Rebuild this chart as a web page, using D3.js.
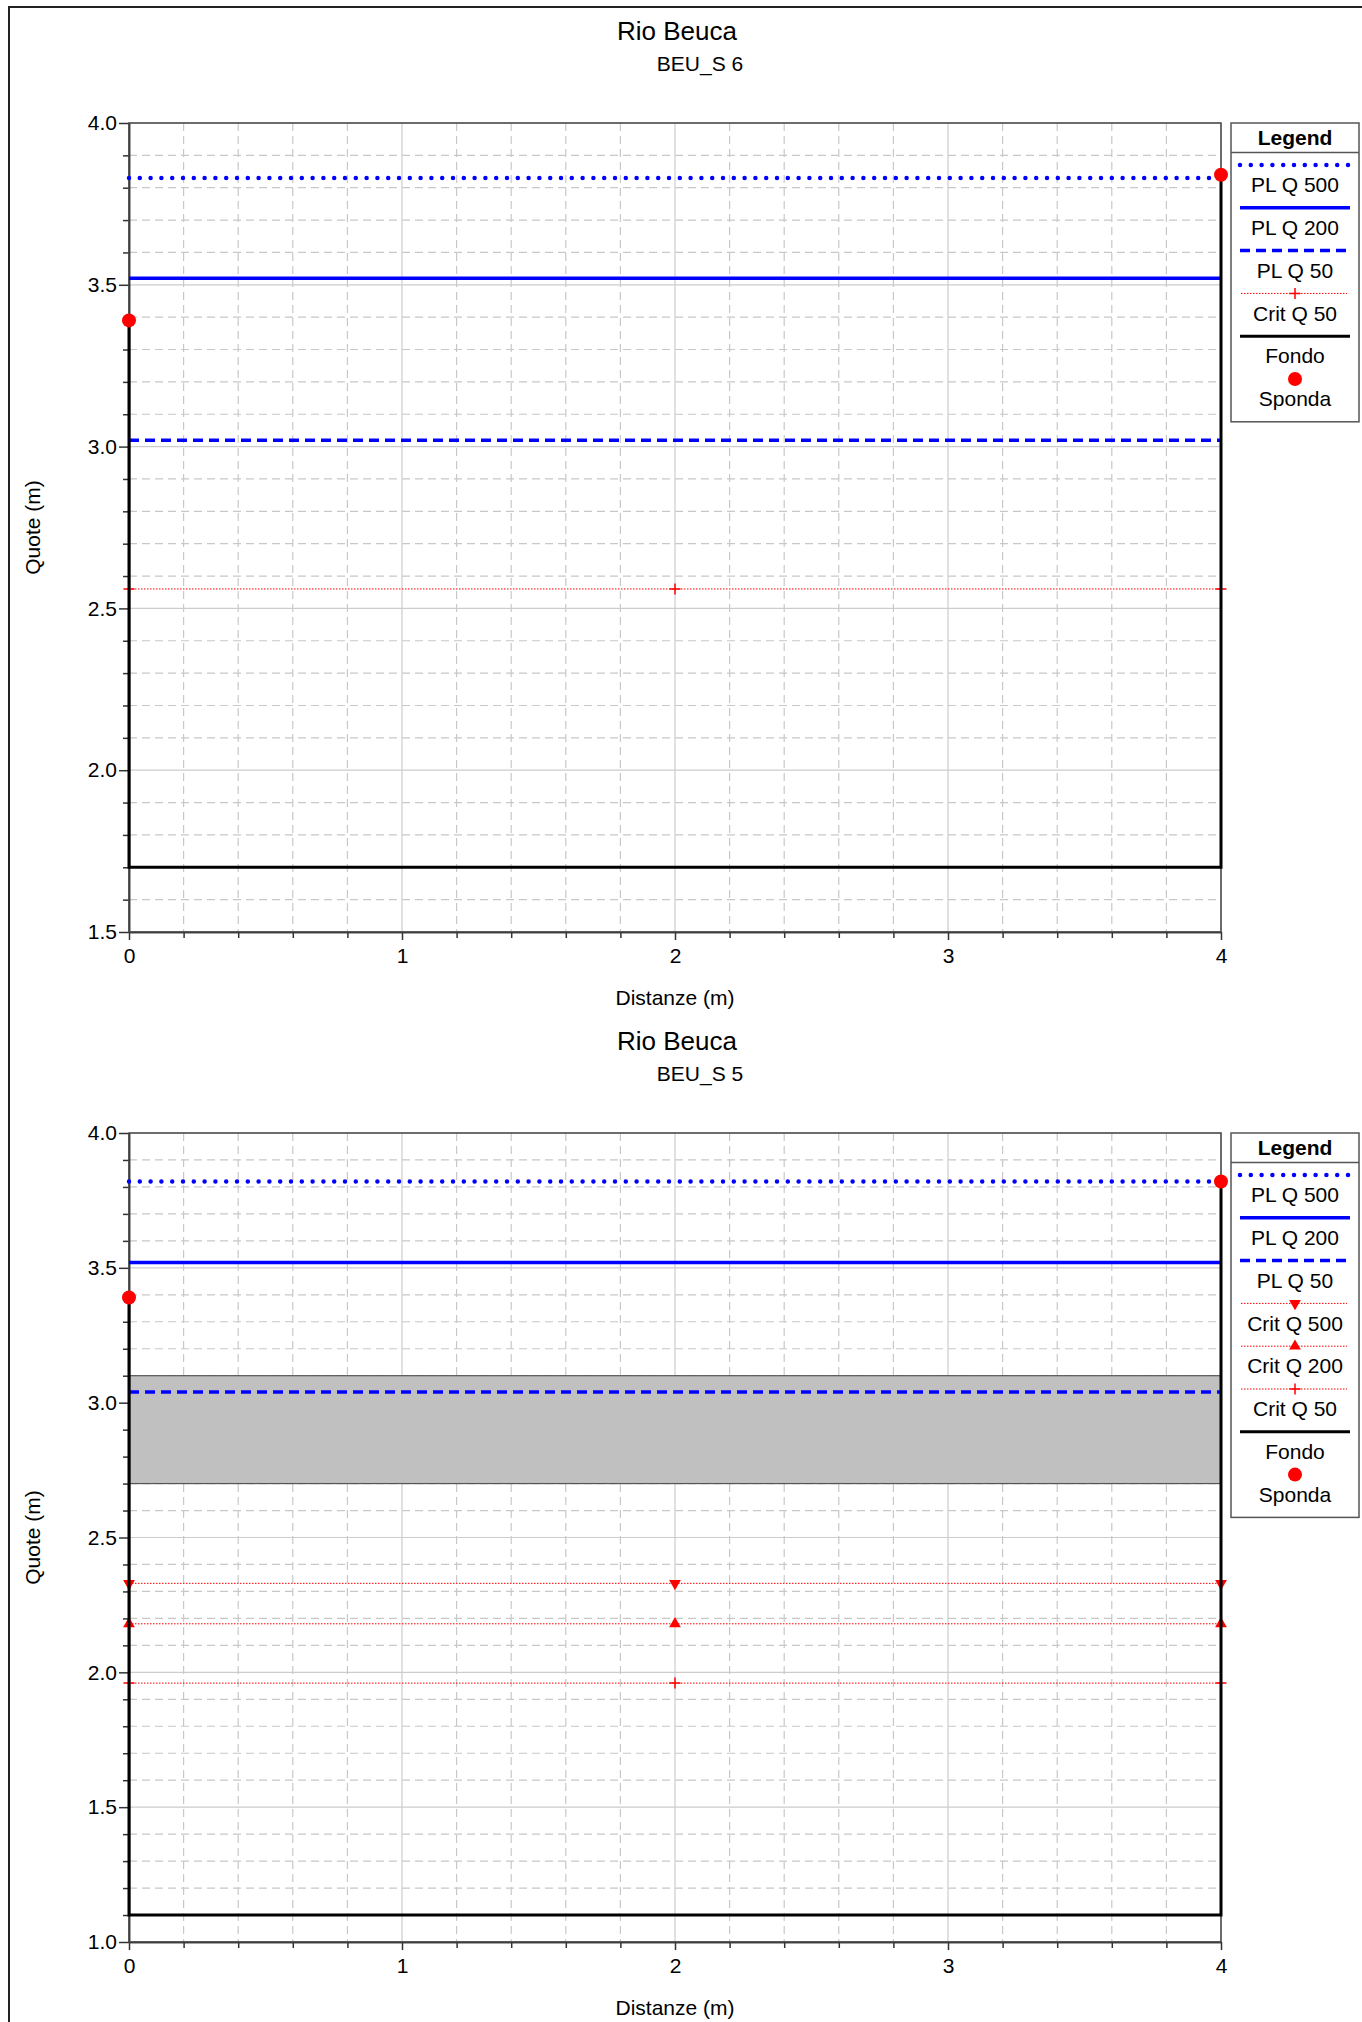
<!DOCTYPE html>
<html><head><meta charset="utf-8">
<script src="https://cdn.jsdelivr.net/npm/d3@7"></script>
<style>body{margin:0;background:#fff}svg{display:block}text{font-family:"Liberation Sans",Arial,sans-serif;fill:#000}</style>
</head><body><div id="chart"></div>
<script>
// ---- data ----
const riverName = "Rio Beuca";
const sectionNames = ["BEU_S 6", "BEU_S 5"];
const xTicks = [0, 1, 2, 3, 4];
const yTicksS6 = [1.5, 2.0, 2.5, 3.0, 3.5, 4.0];
const yTicksS5 = [1.0, 1.5, 2.0, 2.5, 3.0, 3.5, 4.0];
// ground profile (station, elevation)
const groundStationsS6 = [0, 0, 4, 4];
const groundElevS6 = [3.39, 1.70, 1.70, 3.84];
const groundStationsS5 = [0, 0, 4, 4];
const groundElevS5 = [3.39, 1.10, 1.10, 3.82];
// bank stations (Sponda)
const bankStationsS6 = [0, 4];
const bankElevS6 = [3.39, 3.84];
const bankStationsS5 = [0, 4];
const bankElevS5 = [3.39, 3.82];
// water surfaces
const wsStations = [0, 2, 4];
const plQ500 = [3.83, 3.82];   // S6, S5
const plQ200 = [3.52, 3.52];
const plQ50 = [3.02, 3.04];
const critQ500 = [null, 2.33];
const critQ200 = [null, 2.18];
const critQ50 = [2.56, 1.96];
// obstruction block on S5
const blockStations = [0, 4];
const blockElev = [2.70, 3.10];

const legendS6 = ["PL Q 500", "PL Q 200", "PL Q 50", "Crit Q 50", "Fondo", "Sponda"];
const legendS5 = ["PL Q 500", "PL Q 200", "PL Q 50", "Crit Q 500", "Crit Q 200", "Crit Q 50", "Fondo", "Sponda"];

// ---- drawing ----
const W = 1362, H = 2022;
const FS = "21px";
const svg = d3.select("#chart").append("svg").attr("width", W).attr("height", H);
svg.append("rect").attr("x", 9).attr("y", 7).attr("width", 1400).attr("height", 2100)
  .attr("fill", "none").attr("stroke", "#222").attr("stroke-width", 2);

const styles = {
  "PL Q 500": {stroke: "#0000ff", width: 4.5, dash: "0,10.8", cap: "round"},
  "PL Q 200": {stroke: "#0000ff", width: 3.5, dash: null, cap: "butt"},
  "PL Q 50": {stroke: "#0000ff", width: 3.5, dash: "10,6", cap: "butt"},
  "Crit Q 500": {stroke: "#ff0000", width: 1, dash: "1.5,1.5", cap: "butt", marker: "down"},
  "Crit Q 200": {stroke: "#ff0000", width: 1, dash: "1.5,1.5", cap: "butt", marker: "up"},
  "Crit Q 50": {stroke: "#ff0000", width: 1, dash: "1.5,1.5", cap: "butt", marker: "plus"},
  "Fondo": {stroke: "#000", width: 3, dash: null, cap: "butt"}
};

function drawMarker(g, type, cx, cy) {
  if (type === "down") {
    g.append("path").attr("d", d3.symbol(d3.symbolTriangle, 60)()).attr("fill", "#ff0000")
      .attr("transform", `translate(${cx},${cy}) rotate(180)`);
  } else if (type === "up") {
    g.append("path").attr("d", d3.symbol(d3.symbolTriangle, 60)()).attr("fill", "#ff0000")
      .attr("transform", `translate(${cx},${cy})`);
  } else if (type === "plus") {
    g.append("path").attr("d", `M${cx-5.5},${cy}H${cx+5.5}M${cx},${cy-5.5}V${cy+5.5}`)
      .attr("stroke", "#ff0000").attr("stroke-width", 1.5).attr("fill", "none");
  }
}

function drawChart(k) {
  const top = 123 + k * 1010, bottom = top + 809, left = 129, right = 1221;
  const yTicks = k === 0 ? yTicksS6 : yTicksS5;
  const x = d3.scaleLinear().domain([0, 4]).range([left, right]);
  const y = d3.scaleLinear().domain([yTicks[0], yTicks[yTicks.length - 1]]).range([bottom, top]);
  const g = svg.append("g");

  // titles
  g.append("text").attr("x", 677).attr("y", top - 92).attr("text-anchor", "middle")
    .attr("dominant-baseline", "central").style("font-size", "26px").text(riverName);
  g.append("text").attr("x", 700).attr("y", top - 60).attr("text-anchor", "middle")
    .attr("dominant-baseline", "central").style("font-size", FS).text(sectionNames[k]);
  g.append("text").attr("x", (left + right) / 2).attr("y", bottom + 65).attr("text-anchor", "middle")
    .attr("dominant-baseline", "central").style("font-size", FS).text("Distanze (m)");
  g.append("text").attr("transform", `translate(32,${(top + bottom) / 2}) rotate(-90)`)
    .attr("text-anchor", "middle").attr("dominant-baseline", "central").style("font-size", FS).text("Quote (m)");

  // grid
  const y0 = y.domain()[0], y1 = y.domain()[1];
  const yMinor = d3.range(Math.round(y0 * 10), Math.round(y1 * 10) + 1).filter(v => v % 5 !== 0).map(v => v / 10);
  const xMinor = d3.range(0, 21).filter(v => v % 5 !== 0).map(v => v / 5);
  const grid = g.append("g");
  yMinor.forEach(v => grid.append("line").attr("x1", left).attr("x2", right).attr("y1", y(v)).attr("y2", y(v))
    .attr("stroke", "#c8c8c8").attr("stroke-width", 1.2).attr("stroke-dasharray", "8,5"));
  xMinor.forEach(v => grid.append("line").attr("x1", x(v)).attr("x2", x(v)).attr("y1", top).attr("y2", bottom)
    .attr("stroke", "#c8c8c8").attr("stroke-width", 1.2).attr("stroke-dasharray", "8,5"));
  yTicks.forEach(v => grid.append("line").attr("x1", left).attr("x2", right).attr("y1", y(v)).attr("y2", y(v))
    .attr("stroke", "#cccccc").attr("stroke-width", 1.2));
  xTicks.forEach(v => grid.append("line").attr("x1", x(v)).attr("x2", x(v)).attr("y1", top).attr("y2", bottom)
    .attr("stroke", "#cccccc").attr("stroke-width", 1.2));

  // obstruction block
  if (k === 1) {
    g.append("rect").attr("x", x(blockStations[0])).attr("y", y(blockElev[1]))
      .attr("width", x(blockStations[1]) - x(blockStations[0])).attr("height", y(blockElev[0]) - y(blockElev[1]))
      .attr("fill", "#c0c0c0").attr("stroke", "#555").attr("stroke-width", 1.2);
  }

  // axes
  g.append("g").attr("transform", `translate(0,${bottom})`)
    .call(d3.axisBottom(x).tickValues(xTicks).tickFormat(d3.format("d")).tickSize(8).tickSizeOuter(0).tickPadding(8));
  g.append("g").attr("transform", `translate(0,${bottom})`)
    .call(d3.axisBottom(x).tickValues(xMinor).tickFormat("").tickSize(6).tickSizeOuter(0));
  g.append("g").attr("transform", `translate(${left},0)`)
    .call(d3.axisLeft(y).tickValues(yTicks).tickFormat(d3.format(".1f")).tickSize(10).tickSizeOuter(0).tickPadding(2));
  g.append("g").attr("transform", `translate(${left},0)`)
    .call(d3.axisLeft(y).tickValues(yMinor).tickFormat("").tickSize(6).tickSizeOuter(0));
  g.selectAll(".tick text").style("font-size", FS).attr("fill", "#000");
  g.selectAll(".tick line, .domain").attr("stroke", "#333").attr("stroke-width", 1.5);

  // plot frame
  g.append("rect").attr("x", left).attr("y", top).attr("width", right - left).attr("height", bottom - top)
    .attr("fill", "none").attr("stroke", "#444").attr("stroke-width", 1.5);

  const line = d3.line().x(d => x(d[0])).y(d => y(d[1]));
  function wsLine(name, val) {
    const s = styles[name];
    const pts = wsStations.map(st => [st, val]);
    g.append("path").attr("d", line(pts)).attr("fill", "none").attr("stroke", s.stroke)
      .attr("stroke-width", s.width).attr("stroke-dasharray", s.dash).attr("stroke-linecap", s.cap);
    if (s.marker) pts.forEach(p => drawMarker(g, s.marker, x(p[0]), y(p[1])));
  }
  if (critQ50[k] != null) wsLine("Crit Q 50", critQ50[k]);
  if (critQ200[k] != null) wsLine("Crit Q 200", critQ200[k]);
  if (critQ500[k] != null) wsLine("Crit Q 500", critQ500[k]);
  wsLine("PL Q 50", plQ50[k]);
  wsLine("PL Q 200", plQ200[k]);
  wsLine("PL Q 500", plQ500[k]);

  // ground
  const gs = k === 0 ? groundStationsS6 : groundStationsS5;
  const ge = k === 0 ? groundElevS6 : groundElevS5;
  g.append("path").attr("d", line(gs.map((s, i) => [s, ge[i]]))).attr("fill", "none")
    .attr("stroke", "#000").attr("stroke-width", 3);
  // banks
  const bs = k === 0 ? bankStationsS6 : bankStationsS5;
  const be = k === 0 ? bankElevS6 : bankElevS5;
  bs.forEach((s, i) => g.append("circle").attr("cx", x(s)).attr("cy", y(be[i])).attr("r", 7).attr("fill", "#ff0000"));

  // legend
  const items = k === 0 ? legendS6 : legendS5;
  const lx0 = 1231, lx1 = 1359, lc = 1295, step = 42.8;
  const lg = g.append("g");
  lg.append("rect").attr("x", lx0).attr("y", top).attr("width", lx1 - lx0).attr("height", 42 + items.length * step)
    .attr("fill", "#fff").attr("stroke", "#555").attr("stroke-width", 1.5);
  lg.append("text").attr("x", lc).attr("y", top + 14).attr("text-anchor", "middle").attr("dominant-baseline", "central")
    .style("font-size", FS).style("font-weight", "bold").text("Legend");
  lg.append("line").attr("x1", lx0).attr("x2", lx1).attr("y1", top + 29.5).attr("y2", top + 29.5)
    .attr("stroke", "#555").attr("stroke-width", 1.5);
  items.forEach((name, i) => {
    const ly = top + 42 + i * step;
    if (name === "Sponda") {
      lg.append("circle").attr("cx", lc).attr("cy", ly).attr("r", 7).attr("fill", "#ff0000");
    } else {
      const s = styles[name];
      const red = s.stroke === "#ff0000";
      lg.append("line").attr("x1", red ? 1241 : 1240).attr("x2", red ? 1347 : 1350).attr("y1", ly).attr("y2", ly)
        .attr("stroke", s.stroke).attr("stroke-width", s.width).attr("stroke-dasharray", s.dash).attr("stroke-linecap", s.cap);
      if (s.marker) drawMarker(lg, s.marker, lc, ly);
    }
    lg.append("text").attr("x", lc).attr("y", ly + 19.7).attr("text-anchor", "middle").attr("dominant-baseline", "central")
      .style("font-size", FS).text(name);
  });
}
drawChart(0);
drawChart(1);
</script></body></html>
